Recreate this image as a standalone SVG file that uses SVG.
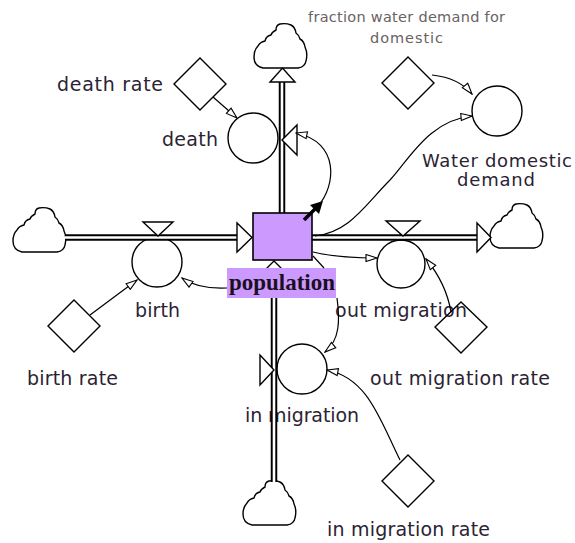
<svg xmlns="http://www.w3.org/2000/svg" xmlns:xlink="http://www.w3.org/1999/xlink" width="575" height="543" viewBox="0 0 575 543">
  <style>
    .lbl { font-family: "DejaVu Sans", Verdana, sans-serif; font-size: 19px; fill: #2b2333; }
    .lbl2 { font-family: "DejaVu Sans", Verdana, sans-serif; font-size: 18px; fill: #2b2333; }
    .small { font-family: "DejaVu Sans", Verdana, sans-serif; font-size: 14.5px; fill: #6b6262; }
    .stocklbl { font-family: "Liberation Serif", "Times New Roman", serif; font-size: 24px; font-weight: bold; fill: #1a1020; }
    .shape { fill: #fff; stroke: #000; stroke-width: 1.4; }
    .outline { fill: none; stroke: #000; stroke-width: 1.4; }
    .pipeOuter { stroke: #000; stroke-width: 6.5; fill: none; }
    .pipeInner { stroke: #fff; stroke-width: 2.6; fill: none; }
    .link { fill: none; stroke: #000; stroke-width: 1.2; marker-end: url(#open); }
    .stub { fill: none; stroke: #000; stroke-width: 1.2; }
  </style>
  <defs>
    <marker id="open" viewBox="0 0 13 9" refX="12" refY="4.5" markerWidth="13" markerHeight="9" markerUnits="userSpaceOnUse" orient="auto">
      <path d="M1,1 L12,4.5 L1,8 Z" fill="#fff" stroke="#000" stroke-width="1.1"/>
    </marker>
    <path id="cloud" class="shape" d="M9,45 L44,45 Q51,44 52,38 Q54,30 51,24 Q50,18 46,16 Q45,12 42,10 Q41,4 37,2 Q32,0 26,1 Q22,2 22,7 Q18,9 17,12 Q12,13 11,18 Q6,19 4,23 Q0,27 0,34 Q0,43 9,45 Z"/>
  </defs>

  <rect width="575" height="543" fill="#fff"/>

  <!-- sources and sinks -->
  <g id="cloud-birth-source"><use xlink:href="#cloud" x="13" y="207"/></g>
  <g id="cloud-death-sink"><use xlink:href="#cloud" x="254" y="23"/></g>
  <g id="cloud-out-sink"><use xlink:href="#cloud" x="490" y="203"/></g>
  <g id="cloud-in-source"><use xlink:href="#cloud" x="243" y="480"/></g>

  <!-- flows: rate circle, pipe, valve, label -->
  <g id="birth">
    <circle class="shape" cx="157" cy="262" r="25"/>
    <line class="pipeOuter" x1="65" y1="237.5" x2="240" y2="237.5"/>
    <line class="pipeInner" x1="65" y1="237.5" x2="240" y2="237.5"/>
    <polygon class="shape" points="237,223 237,252 252,237.5"/>
    <polygon class="shape" points="143,222 173,222 158,236"/>
    <text class="lbl" x="135" y="317" textLength="45">birth</text>
  </g>

  <g id="death">
    <circle class="shape" cx="253" cy="138" r="25"/>
    <line class="pipeOuter" x1="282" y1="78" x2="282" y2="214"/>
    <line class="pipeInner" x1="282" y1="78" x2="282" y2="214"/>
    <polygon class="shape" points="270,82 295,82 282.5,68"/>
    <polygon class="shape" points="297,125 297,155 282,140"/>
    <text class="lbl" x="162" y="146" textLength="56">death</text>
  </g>

  <g id="out-migration">
    <circle class="shape" cx="401" cy="264" r="24"/>
    <line class="pipeOuter" x1="311" y1="237.5" x2="480" y2="237.5"/>
    <line class="pipeInner" x1="311" y1="237.5" x2="480" y2="237.5"/>
    <polygon class="shape" points="477,223 477,252 491,237.5"/>
    <polygon class="shape" points="386,221 420,221 403,236"/>
    <text class="lbl" x="335" y="317" textLength="132">out migration</text>
  </g>

  <g id="in-migration">
    <text class="lbl" x="245" y="422" textLength="114">in migration</text>
    <circle class="shape" cx="302" cy="369" r="25"/>
    <line class="pipeOuter" x1="274" y1="482" x2="274" y2="264"/>
    <line class="pipeInner" x1="274" y1="482" x2="274" y2="264"/>
    <polygon class="shape" points="261,274 287,274 274,261"/>
    <polygon class="shape" points="260,355 260,385 274,370"/>
  </g>

  <!-- auxiliaries -->
  <g id="water-domestic-demand">
    <circle class="shape" cx="497" cy="111" r="25"/>
    <text class="lbl2" x="497" y="167" text-anchor="middle" textLength="150">Water domestic</text>
    <text class="lbl2" x="496" y="186" text-anchor="middle" textLength="78">demand</text>
  </g>

  <g id="death-rate">
    <polygon class="shape" points="200,58 226,84 200,110 174,84"/>
    <text class="lbl" x="57" y="91" textLength="106">death rate</text>
  </g>

  <g id="fraction-water-demand">
    <polygon class="shape" points="408,57 434,83 408,109 382,83"/>
    <text class="small" x="308" y="22" textLength="197">fraction water demand for</text>
    <text class="small" x="370" y="43" textLength="73">domestic</text>
  </g>

  <g id="birth-rate">
    <polygon class="shape" points="74,300 100,326 74,352 48,326"/>
    <text class="lbl" x="27" y="385" textLength="91">birth rate</text>
  </g>

  <g id="out-migration-rate">
    <polygon class="outline" points="461,302 487,327 461,353 435,327"/>
    <text class="lbl" x="370" y="385" textLength="180">out migration rate</text>
  </g>

  <g id="in-migration-rate">
    <polygon class="shape" points="408,455 434,481 408,507 382,481"/>
    <text class="lbl" x="327" y="536" textLength="163">in migration rate</text>
  </g>

  <!-- stock -->
  <g id="population">
    <rect x="253" y="213" width="59" height="47" fill="#cc99ff" stroke="#000" stroke-width="1.6"/>
    <rect x="227" y="268" width="109" height="30" fill="#cc99ff"/>
    <text class="stocklbl" x="229" y="290" textLength="106" lengthAdjust="spacingAndGlyphs">population</text>
  </g>

  <!-- information links -->
  <g id="connectors">
    <path class="link" d="M213,97 L237,118"/>
    <path class="link" d="M318,206 C336,186 340,142 296,133"/>
    <path class="link" d="M432,75 Q459,78 472,94"/>
    <path class="link" d="M315,236 C350,232 365,205 390,180 C410,158 430,120 472,116"/>
    <path class="link" d="M90,315 L137,280"/>
    <path class="link" d="M227,288 C205,289 192,285 182,278"/>
    <path class="link" d="M313,252 C330,256 350,258 377,258"/>
    <path class="link" d="M451,312 Q446,283 426,259"/>
    <path class="stub" d="M313,256 L324,268"/>
    <path class="link" d="M337,298 C340,320 340,340 325,352"/>
    <path class="link" d="M400,460 C380,420 368,378 327,370"/>
    <!-- selected-link handle at the stock corner -->
    <line x1="304" y1="220" x2="315" y2="209" stroke="#000" stroke-width="3.5"/>
    <polygon points="323,201 310,205 319,214" fill="#000"/>
  </g>
</svg>
